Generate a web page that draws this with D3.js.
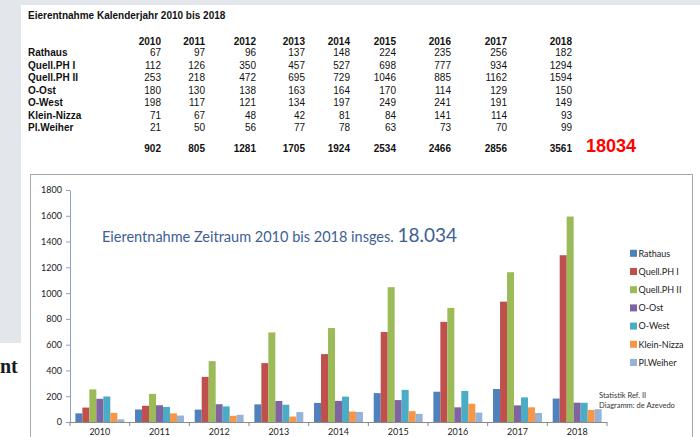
<!DOCTYPE html>
<html><head><meta charset="utf-8">
<script src="https://cdn.jsdelivr.net/npm/d3@7"></script>
<style>html,body{margin:0;padding:0;background:#fff;}svg{display:block;}</style>
</head><body>
<script>
// ---- data ----
const years = ["2010","2011","2012","2013","2014","2015","2016","2017","2018"];
const seriesNames = ["Rathaus","Quell.PH I","Quell.PH II","O-Ost","O-West","Klein-Nizza","Pl.Weiher"];
const rathaus    = [67, 97, 96, 137, 148, 224, 235, 256, 182];
const quellPH1   = [112, 126, 350, 457, 527, 698, 777, 934, 1294];
const quellPH2   = [253, 218, 472, 695, 729, 1046, 885, 1162, 1594];
const oOst       = [180, 130, 138, 163, 164, 170, 114, 129, 150];
const oWest      = [198, 117, 121, 134, 197, 249, 241, 191, 149];
const kleinNizza = [71, 67, 48, 42, 81, 84, 141, 114, 93];
const plWeiher   = [21, 50, 56, 77, 78, 63, 73, 70, 99];
const totals     = [902, 805, 1281, 1705, 1924, 2534, 2466, 2856, 3561];
const grandTotal = "18034";
const yTicks = [0, 200, 400, 600, 800, 1000, 1200, 1400, 1600, 1800];
const tableTitle = "Eierentnahme Kalenderjahr 2010 bis 2018";
const chartTitle = "Eierentnahme Zeitraum 2010 bis 2018 insges. ";
const chartTitleNum = "18.034";
const creditLines = ["Statistik Ref. II", "Diagramm: de Azevedo"];
const seriesValues = [rathaus, quellPH1, quellPH2, oOst, oWest, kleinNizza, plWeiher];

// ---- styles / layout ----
const colors = ["#4F81BD","#C0504D","#9BBB59","#8064A2","#4BACC6","#F79646","#95B3D7"];
const tableColRight = [161, 205, 256, 305, 350, 396, 451, 507, 572];
const W = 700, H = 437;

const svg = d3.select("body").append("svg").attr("width", W).attr("height", H);
svg.append("rect").attr("width", W).attr("height", H).attr("fill", "#fff");
// grey surroundings
svg.append("rect").attr("x",0).attr("y",0).attr("width",W).attr("height",5).attr("fill","#e3e6ea");
svg.append("rect").attr("x",0).attr("y",0).attr("width",21).attr("height",343).attr("fill","#e3e6ea");
svg.append("text").attr("x",0).attr("y",373)
  .attr("font-family","'Liberation Serif', serif").attr("font-weight","bold").attr("font-size",20)
  .attr("fill","#1a1a1a").text("nt");

// ---- table ----
const tf = "'Liberation Sans', Arial, sans-serif";
const tbl = svg.append("g").attr("font-family", tf).attr("font-size", 10).attr("fill", "#111");
tbl.append("text").attr("x",28).attr("y",19).attr("font-weight","bold").text(tableTitle);
const rowY = d3.scaleLinear().domain([0, 1]).range([56, 68.5]);
tbl.selectAll("text.hdr").data(years).join("text").attr("class","hdr")
  .attr("x",(d,i)=>tableColRight[i]).attr("y",45).attr("text-anchor","end").attr("font-weight","bold").text(d=>d);
seriesNames.forEach((name, r) => {
  tbl.append("text").attr("x",28).attr("y",rowY(r)).attr("font-weight","bold").text(name);
  tbl.selectAll(null).data(seriesValues[r]).join("text")
    .attr("x",(d,i)=>tableColRight[i]).attr("y",rowY(r)).attr("text-anchor","end").text(d=>d);
});
tbl.selectAll("text.tot").data(totals).join("text").attr("class","tot")
  .attr("x",(d,i)=>tableColRight[i]).attr("y",151.5).attr("text-anchor","end").attr("font-weight","bold").text(d=>d);
tbl.append("text").attr("x",586).attr("y",152).attr("font-weight","bold").attr("font-size",18)
  .attr("fill","#f00").text(grandTotal);

// ---- chart ----
const cf = "Lato, 'Open Sans', sans-serif";
svg.append("rect").attr("x",30.5).attr("y",174.5).attr("width",662).attr("height",300)
  .attr("fill","#fff").attr("stroke","#a8a8a8");

const x0 = d3.scaleBand().domain(years).range([70, 607]).paddingInner(0.18).paddingOuter(0.09);
const x1 = d3.scaleBand().domain(seriesNames).range([0, x0.bandwidth()]);
const y = d3.scaleLinear().domain([0, 1800]).range([422, 190]);

const yAxis = svg.append("g").attr("transform","translate(70,0)")
  .call(d3.axisLeft(y).tickValues(yTicks).tickFormat(d3.format("d")).tickSize(4).tickSizeOuter(0).tickPadding(4));
yAxis.select(".domain").attr("stroke","#8aa2c8");
yAxis.selectAll(".tick line").attr("stroke","#8aa2c8");
yAxis.selectAll("text").attr("font-family",cf).attr("font-size",9).attr("fill","#222");

const groups = svg.append("g").selectAll("g").data(years).join("g")
  .attr("transform", d => `translate(${x0(d)},0)`);
groups.selectAll("rect").data((d,i) => seriesNames.map((s,k) => ({s, v: seriesValues[k][i], k})))
  .join("rect")
  .attr("x", d => x1(d.s)).attr("width", x1.bandwidth())
  .attr("y", d => y(d.v)).attr("height", d => y(0) - y(d.v))
  .attr("fill", d => colors[d.k]);

// x axis
const step = x0.step();
const xAxis = svg.append("g");
xAxis.append("line").attr("x1",70).attr("x2",607).attr("y1",422.5).attr("y2",422.5).attr("stroke","#8a8a8a");
xAxis.selectAll("line.tk").data(d3.range(years.length + 1)).join("line").attr("class","tk")
  .attr("x1",i=>70 + i*step).attr("x2",i=>70 + i*step).attr("y1",422).attr("y2",426).attr("stroke","#8a8a8a");
xAxis.selectAll("text").data(years).join("text")
  .attr("x", d => x0(d) + x0.bandwidth()/2).attr("y", 435).attr("text-anchor","middle")
  .attr("font-family",cf).attr("font-size",9).attr("fill","#222").text(d=>d);

// title
const t = svg.append("text").attr("x",102).attr("y",242).attr("font-family",cf).attr("fill","#3d5f94");
t.append("tspan").attr("font-size",14.5).text(chartTitle);
t.append("tspan").attr("font-size",19).text(chartTitleNum);

// legend
const leg = svg.append("g");
const legY = d3.scaleLinear().domain([0,1]).range([253.3, 271.5]);
seriesNames.forEach((s,i) => {
  leg.append("rect").attr("x",630).attr("y",legY(i)-3.5).attr("width",7).attr("height",7).attr("fill",colors[i]);
  leg.append("text").attr("x",638.5).attr("y",legY(i)+3.2).attr("font-family",cf).attr("font-size",9)
    .attr("fill","#222").text(s);
});

// credits
svg.append("g").selectAll("text").data(creditLines).join("text")
  .attr("x",599).attr("y",(d,i)=>398 + i*9.5).attr("font-family",cf).attr("font-size",7.5).attr("fill","#333").text(d=>d);
</script>
</body></html>
